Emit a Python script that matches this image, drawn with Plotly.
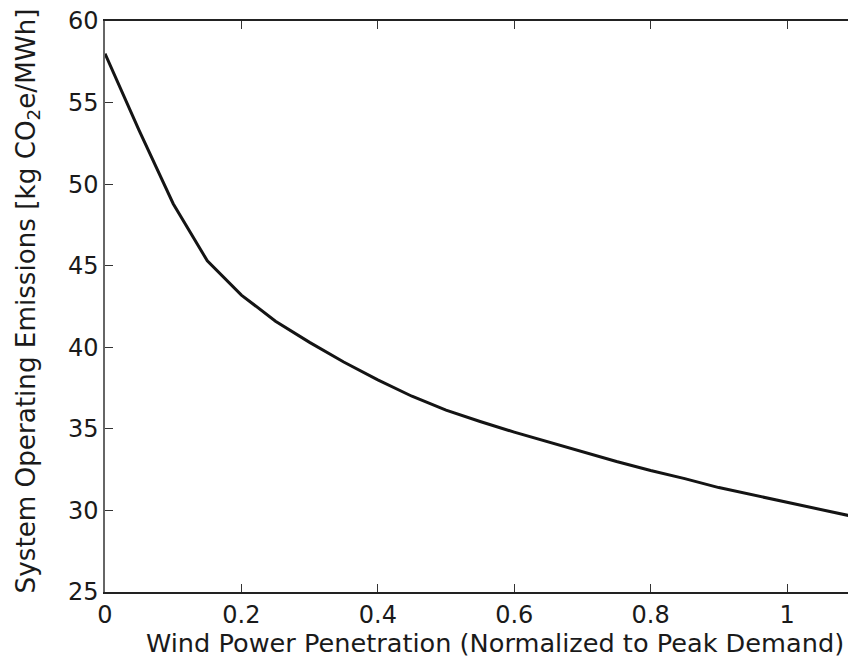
import plotly.graph_objects as go

# Wind penetration (fraction of peak demand) and system operating emissions
penetration = [0.00, 0.05, 0.10, 0.15, 0.20, 0.25, 0.30, 0.35, 0.40, 0.45, 0.50,
               0.55, 0.60, 0.65, 0.70, 0.75, 0.80, 0.85, 0.90, 0.95, 1.00, 1.05, 1.10]
emissions = [58.0, 53.3, 48.8, 45.3, 43.2, 41.6, 40.3, 39.1, 38.0, 37.0, 36.15,
             35.45, 34.8, 34.2, 33.6, 33.0, 32.45, 31.95, 31.4, 30.95, 30.5, 30.05, 29.6]

x_ticks = [0, 0.2, 0.4, 0.6, 0.8, 1.0]
x_tick_text = ["0", "0.2", "0.4", "0.6", "0.8", "1"]
y_ticks = [25, 30, 35, 40, 45, 50, 55, 60]

x_title = "Wind Power Penetration (Normalized to Peak Demand)"
y_title = "System Operating Emissions [kg CO<sub>2</sub>e/MWh]"

FONT = "DejaVu Sans, Liberation Sans, Arial, sans-serif"

fig = go.Figure()
fig.add_trace(go.Scatter(
    x=penetration, y=emissions, mode="lines",
    line=dict(color="#141414", width=3),
    showlegend=False,
))

fig.update_layout(
    width=848, height=662,
    margin=dict(l=105, r=0, t=21, b=70),
    paper_bgcolor="white", plot_bgcolor="white",
    font=dict(family=FONT, size=24, color="#1a1a1a"),
)

fig.update_xaxes(
    range=[0, 1.0894],
    tickvals=x_ticks, ticktext=x_tick_text,
    ticks="inside", ticklen=8, tickwidth=1.2, tickcolor="#333",
    showline=True, linecolor="#222", linewidth=1.5, mirror="ticks",
    showgrid=False, zeroline=False,
    tickfont=dict(family=FONT, size=24),
)
fig.update_yaxes(
    range=[25, 60],
    tickvals=y_ticks,
    ticks="inside", ticklen=8, tickwidth=1.2, tickcolor="#333",
    showline=True, linecolor="#666", linewidth=1.5, mirror=False,
    showgrid=False, zeroline=False,
    tickfont=dict(family=FONT, size=24),
)

# Axis titles placed as annotations so their position can be set freely
fig.add_annotation(
    text=x_title, xref="paper", yref="paper",
    x=0.525, y=-0.089, xanchor="center", yanchor="middle",
    showarrow=False, font=dict(family=FONT, size=25.6, color="#1a1a1a"),
)
fig.add_annotation(
    text=y_title, xref="paper", yref="paper", textangle=-90,
    x=-0.1036, y=0.509, xanchor="center", yanchor="middle",
    showarrow=False, font=dict(family=FONT, size=26.2, color="#1a1a1a"),
)

fig.write_html("out.html")
